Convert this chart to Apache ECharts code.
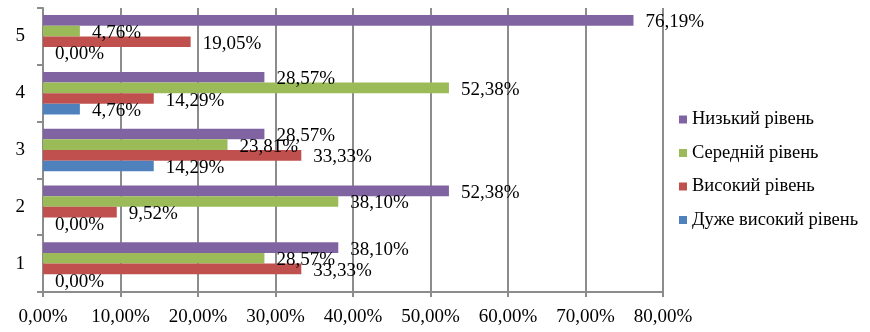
<!DOCTYPE html>
<html><head><meta charset="utf-8">
<script src="https://cdn.jsdelivr.net/npm/echarts@6/dist/echarts.min.js"></script>
<style>html,body{margin:0;padding:0;background:#fff}#c{width:870px;height:332px}</style>
</head><body><div id="c"></div>
<script>
const categories = ['1','2','3','4','5'];
const seriesNames = ['Низький рівень','Середній рівень','Високий рівень','Дуже високий рівень'];
const low      = [38.10, 52.38, 28.57, 28.57, 76.19];
const medium   = [28.57, 38.10, 23.81, 52.38, 4.76];
const high     = [33.33, 9.52, 33.33, 14.29, 19.05];
const veryHigh = [0.00, 0.00, 14.29, 4.76, 0.00];
const colors = ['#8064A2','#9BBB59','#C0504D','#4F81BD'];
const font = 'Liberation Serif';
const fmt = v => v.toFixed(2).replace('.', ',') + '%';
const values = [low, medium, high, veryHigh];
const chart = echarts.init(document.getElementById('c'));
chart.setOption({
  animation: false,
  textStyle: {fontFamily: font},
  grid: {left: 43, right: 207, top: 8, bottom: 40, containLabel: false},
  legend: {
    orient: 'vertical', left: 674, top: 104, itemWidth: 8, itemHeight: 8, itemGap: 12.5,
    icon: 'rect',
    data: seriesNames,
    textStyle: {fontFamily: font, fontSize: 18.5, color: '#000', lineHeight: 21}
  },
  xAxis: {
    type: 'value', min: 0, max: 80, interval: 10,
    axisLine: {show: true, lineStyle: {color: '#8c8c8c', width: 2}},
    axisTick: {show: true, length: 5, lineStyle: {color: '#8c8c8c', width: 2}},
    splitLine: {show: true, lineStyle: {color: '#8c8c8c', width: 2}},
    axisLabel: {formatter: v => fmt(v), fontFamily: font, fontSize: 19, color: '#000', margin: 16}
  },
  yAxis: {
    type: 'category', data: categories,
    axisLine: {show: true, lineStyle: {color: '#8c8c8c', width: 2}},
    axisTick: {show: true, length: 6, lineStyle: {color: '#8c8c8c', width: 2}},
    axisLabel: {fontFamily: font, fontSize: 19, color: '#000', margin: 18}
  },
  series: seriesNames.map((n, i) => ({
    name: n, type: 'bar', data: values[i],
    barGap: '0%', barCategoryGap: '25%',
    itemStyle: {color: colors[i]},
    label: {show: true, position: 'right', distance: 12, offset: [0, 2],
      formatter: p => fmt(p.value), fontFamily: font, fontSize: 19, color: '#000'}
  }))
});
</script></body></html>
